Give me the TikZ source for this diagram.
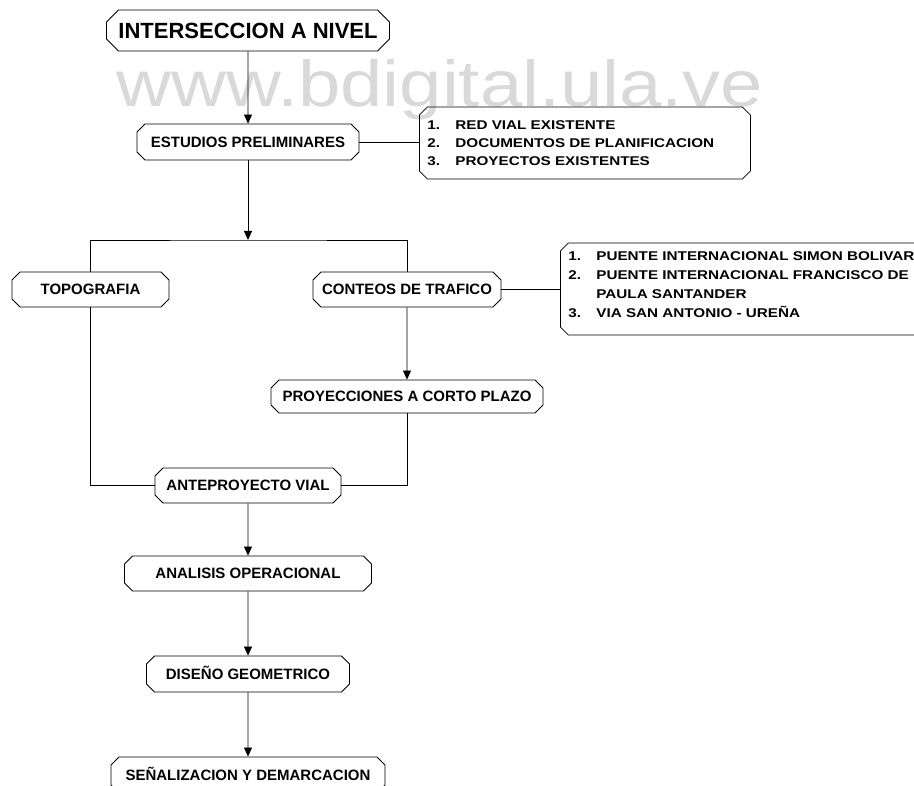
\documentclass[tikz,border=0pt]{standalone}
\usepackage{fontspec}
\setmainfont{Liberation Sans}
\newfontfamily\listfont[FakeStretch=1.2]{Liberation Sans}
\newfontfamily\markfont[FakeStretch=1.17]{Liberation Sans}
\usetikzlibrary{arrows.meta,shapes.misc,positioning}
\newcommand{\itemnum}[1]{\makebox[28pt][l]{#1}}

\begin{document}
\begin{tikzpicture}[x=1pt, y=-1pt, >={Triangle[length=9pt,width=8pt]},
  caja/.style={draw, line width=0.8pt, chamfered rectangle, chamfered rectangle xsep=4pt,
               chamfered rectangle ysep=4pt, inner sep=0pt, text height=10.8pt, text depth=0pt,
               font=\bfseries\fontsize{15}{18}\selectfont, minimum height=35pt},
  lista/.style={draw, line width=0.8pt, chamfered rectangle, chamfered rectangle xsep=4pt,
               chamfered rectangle ysep=4pt, inner xsep=4pt, inner ysep=0pt, align=left,
               font=\listfont\bfseries\fontsize{12.7}{18}\selectfont},
  sig/.style={->, line width=0.8pt},
  lin/.style={line width=0.8pt}]

  \useasboundingbox (0,0) rectangle (914,786);
  \clip (0,0) rectangle (914,786);

  % --- watermark ---
  \node[font=\markfont\fontsize{65}{65}\selectfont, text=black!15, anchor=base, inner sep=0pt] (marca) at (440,107) {www.bdigital.ula.ve};

  % --- boxes ---
  \node[caja, chamfered rectangle xsep=6pt, chamfered rectangle ysep=6pt, minimum width=283pt, minimum height=41pt,
        text height=15.8pt, font=\bfseries\fontsize{22}{26}\selectfont] (titulo) at (248,30.5) {INTERSECCION A NIVEL};
  \node[caja, minimum width=222pt, minimum height=36pt] (estudios)     at (248,142)   {ESTUDIOS PRELIMINARES};
  \node[caja, minimum width=157pt] (topografia)   at (90.5,289.5) {TOPOGRAFIA};
  \node[caja, minimum width=188pt] (conteos)      at (407,289.5)  {CONTEOS DE TRAFICO};
  \node[caja, minimum width=272pt, minimum height=33pt] (proyecciones) at (407,396.5) {PROYECCIONES A CORTO PLAZO};
  \node[caja, minimum width=186pt] (anteproyecto) at (248,485.5)  {ANTEPROYECTO VIAL};
  \node[caja, minimum width=247pt] (analisis)     at (248,573.5)  {ANALISIS OPERACIONAL};
  \node[caja, minimum width=203pt, minimum height=36pt] (diseno) at (248,674) {DISEÑO GEOMETRICO};
  \node[caja, minimum width=274pt, minimum height=36pt] (senal)  at (248,775) {SEÑALIZACION Y DEMARCACION};

  % --- lists ---
  \node[lista, text width=315pt, minimum height=72pt, anchor=west] (lista1) at (419,143)
    {\itemnum{1.}RED VIAL EXISTENTE\\\itemnum{2.}DOCUMENTOS DE PLANIFICACION\\\itemnum{3.}PROYECTOS EXISTENTES};
  \node[lista, text width=380pt, minimum height=92pt, anchor=west,
        font=\listfont\bfseries\fontsize{12.7}{19}\selectfont] (lista2) at (560,289)
    {\itemnum{1.}PUENTE INTERNACIONAL SIMON BOLIVAR\\\itemnum{2.}PUENTE INTERNACIONAL FRANCISCO DE\\
     \itemnum{}PAULA SANTANDER\\\itemnum{3.}VIA SAN ANTONIO - UREÑA\rule[-9pt]{0pt}{9pt}};

  % --- connectors ---
  \coordinate (ramal) at (248,240);
  \draw[sig] (titulo) -- (estudios);
  \draw[lin] (estudios.east) -- (estudios.east -| lista1.west);
  \draw[sig] (estudios) -- (ramal);
  \draw[lin] (topografia.north) |- (ramal) -| (conteos.north);
  \draw[lin] (conteos.east) -- (conteos.east -| lista2.west);
  \draw[sig] (conteos) -- (proyecciones);
  \draw[lin] (topografia.south) |- (anteproyecto.west);
  \draw[lin] (proyecciones.south) |- (anteproyecto.east);
  \draw[sig] (anteproyecto) -- (analisis);
  \draw[sig] (analisis) -- (diseno);
  \draw[sig] (diseno) -- (senal);
\end{tikzpicture}
\end{document}
